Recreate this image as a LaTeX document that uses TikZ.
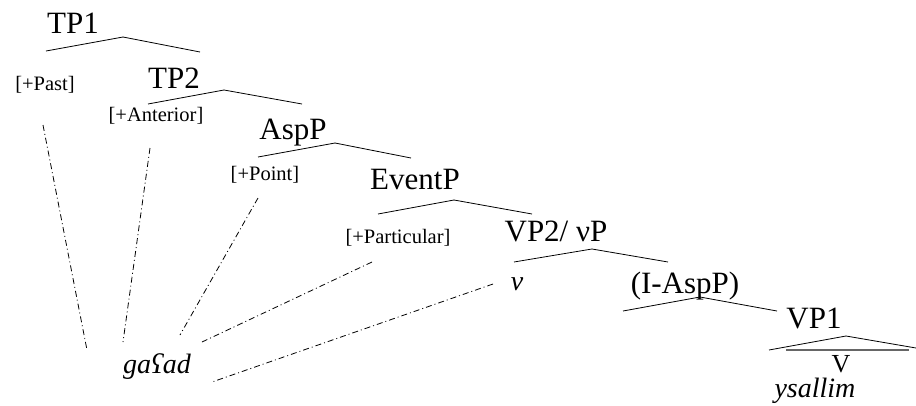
\documentclass[tikz,border=0pt]{standalone}
\usepackage{fontspec}
\setmainfont{Liberation Serif}

\begin{document}
\begin{tikzpicture}[x=1pt,y=-1pt,
    cat/.style={font=\fontsize{31}{31}\selectfont,anchor=base,inner sep=0pt},
    feat/.style={font=\fontsize{20.5}{20.5}\selectfont,anchor=base,inner sep=0pt},
    word/.style={font=\fontsize{28}{28}\selectfont\itshape,anchor=base,inner sep=0pt},
    branch/.style={line width=0.8pt},
    link/.style={line width=0.8pt,dash pattern=on 6pt off 3pt on 1pt off 3pt}]
  \useasboundingbox (0,0) rectangle (916,405);
  % phrase labels
  \node[cat] (tp1)   at (73,33)   {TP1};
  \node[cat] (tp2)   at (174,88)  {TP2};
  \node[cat] (asp)   at (293,139) {AspP};
  \node[cat] (event) at (415,189) {EventP};
  \node[cat] (vp2)   at (556,241) {VP2/ νP};
  \node[cat] (iasp)  at (685,293) {(I-AspP)};
  \node[cat] (vp1)   at (814,328) {VP1};
  % feature heads
  \node[feat] (past)  at (45,90)   {[+Past]};
  \node[feat] (ant)   at (156,121) {[+Anterior]};
  \node[feat] (point) at (265,180) {[+Point]};
  \node[feat] (part)  at (398,243) {[+Particular]};
  \node[word] (v)     at (517,290) {v};
  % words
  \node[font=\fontsize{26}{26}\selectfont,anchor=base,inner sep=0pt,text depth=0pt] (V) at (841,372) {V};
  \node[word,text height=17pt] (verb) at (815,397) {ysallim};
  \node[word] (gaad) at (157,373) {gaʕad};
  % branching: apex, left foot, right foot
  \foreach \n/\tx/\ty/\lx/\ly/\rx/\ry in {tp1/123/37/46/51/200/52,
      tp2/224/90/148/104/302/104, asp/335/143/258/157/411/158,
      event/454/200/378/214/532/214, vp2/592/249/514/262/668/262,
      iasp/700/297/623/311/777/311, vp1/846/336/769/350/916/348} {
    \coordinate (\n-top) at (\tx,\ty);
    \coordinate (\n-l) at (\lx,\ly);
    \coordinate (\n-r) at (\rx,\ry);
    \draw[branch] (\n-l)--(\n-top)--(\n-r);
  }
  % triangle base over V
  \coordinate (tri-l) at (786,350);
  \coordinate (tri-r) at (909,350);
  \draw[gray!80!black,line width=1.4pt] (tri-l)--(tri-r);
  % dash-dot links from the heads down to the verb
  \foreach \n/\ax/\ay/\bx/\by in {past/43/125/87/350, ant/150/148/123/342,
      point/258/198/180/335, part/372/262/202/342, v/493/284/212/382} {
    \coordinate (\n-a) at (\ax,\ay);
    \coordinate (\n-b) at (\bx,\by);
    \draw[link] (\n-a)--(\n-b);
  }
\end{tikzpicture}
\end{document}
